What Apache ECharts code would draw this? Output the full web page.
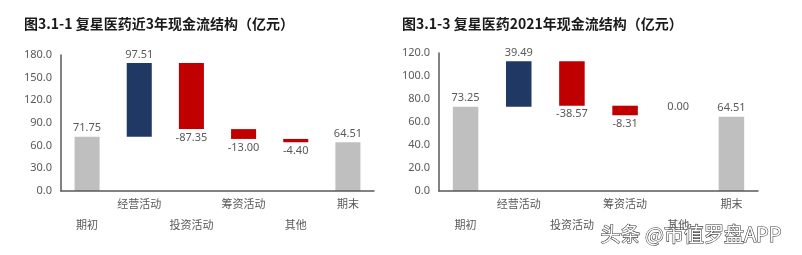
<!DOCTYPE html>
<html>
<head>
<meta charset="utf-8">
<script src="https://cdn.jsdelivr.net/npm/echarts@6/dist/echarts.min.js"></script>
<style>
html,body{margin:0;padding:0;background:#fff;}
#c{width:802px;height:255px;}
</style>
</head>
<body>
<div id="c"></div>
<script>
var categories = ['期初', '经营活动', '投资活动', '筹资活动', '其他', '期末'];
var leftTitle = '图3.1-1 复星医药近3年现金流结构（亿元）';
var rightTitle = '图3.1-3 复星医药2021年现金流结构（亿元）';
// deltas: first = start balance, last = end balance
var leftValues = [71.75, 97.51, -87.35, -13.00, -4.40, 64.51];
var rightValues = [73.25, 39.49, -38.57, -8.31, 0.00, 64.51];
var leftTicks = [0, 30, 60, 90, 120, 150, 180];
var rightTicks = [0, 20, 40, 60, 80, 100, 120];

var GREY = '#BFBFBF', NAVY = '#203864', RED = '#C00000';
var LABEL = '#595959';
var FONT = '"Noto Sans", "Noto Sans CJK SC", sans-serif';

function waterfall(vals) {
  var base = [], h = [], running = 0;
  for (var i = 0; i < vals.length; i++) {
    var v = vals[i];
    if (i === 0 || i === vals.length - 1) {
      base.push(0); h.push({value: v, itemStyle: {color: GREY}, label: {position: 'top'}, raw: v});
      running = v;
    } else if (v >= 0) {
      base.push(running); h.push({value: v, itemStyle: {color: NAVY}, label: {position: 'top'}, raw: v});
      running += v;
    } else {
      running += v;
      base.push(running); h.push({value: -v, itemStyle: {color: RED}, label: {position: 'bottom'}, raw: v});
    }
  }
  return {base: base, h: h};
}
var L = waterfall(leftValues), R = waterfall(rightValues);

function xAxis(gi) {
  return {
    type: 'category', gridIndex: gi, data: categories, z: 10,
    axisLine: {lineStyle: {color: '#595959', width: 1.5}},
    axisTick: {show: false},
    axisLabel: {
      interval: 0, color: LABEL, fontSize: 11, fontFamily: FONT, margin: 3, lineHeight: 21,
      formatter: function (v, i) { return i % 2 === 0 ? '\n' + v : v; }
    }
  };
}
function yAxis(gi, ticks) {
  return {
    type: 'value', gridIndex: gi, min: ticks[0], max: ticks[ticks.length - 1],
    interval: ticks[1] - ticks[0],
    axisLine: {show: true, lineStyle: {color: '#595959', width: 1.5}},
    axisTick: {show: false}, splitLine: {show: false},
    axisLabel: {color: LABEL, fontSize: 11, fontFamily: FONT, margin: 9,
      formatter: function (v) { return v.toFixed(1); }}
  };
}
function series(idx, d, stack) {
  return [
    {type: 'bar', xAxisIndex: idx, yAxisIndex: idx, stack: stack, data: d.base,
      itemStyle: {color: 'transparent'}, barWidth: '48%', silent: true},
    {type: 'bar', xAxisIndex: idx, yAxisIndex: idx, stack: stack, data: d.h, barWidth: '48%',
      label: {show: true, color: LABEL, fontSize: 11, fontFamily: FONT, distance: 3,
        formatter: function (p) { return p.data.raw.toFixed(2); }}}
  ];
}

var chart = echarts.init(document.getElementById('c'), null, {renderer: 'canvas'});
chart.setOption({
  animation: false,
  title: [
    {text: leftTitle, left: 19, top: 12, textStyle: {fontSize: 14, fontWeight: 'bold', color: '#1a1a1a', fontFamily: '"Noto Sans CJK SC", sans-serif'}},
    {text: rightTitle, left: 397, top: 12, textStyle: {fontSize: 14, fontWeight: 'bold', color: '#1a1a1a', fontFamily: '"Noto Sans CJK SC", sans-serif'}}
  ],
  grid: [
    {left: 61, width: 313, top: 55, height: 136},
    {left: 439, width: 319, top: 53, height: 138}
  ],
  xAxis: [xAxis(0), xAxis(1)],
  yAxis: [yAxis(0, leftTicks), yAxis(1, rightTicks)],
  series: series(0, L, 'a').concat(series(1, R, 'b')),
  graphic: [{
    type: 'text', left: 600, top: 224, z: -1,
    style: {text: '头条 @市值罗盘APP', fontSize: 20, fontFamily: '"Noto Sans CJK SC", sans-serif',
      fill: '#ffffff', stroke: '#333333', lineWidth: 1.1}
  }]
});
</script>
</body>
</html>
